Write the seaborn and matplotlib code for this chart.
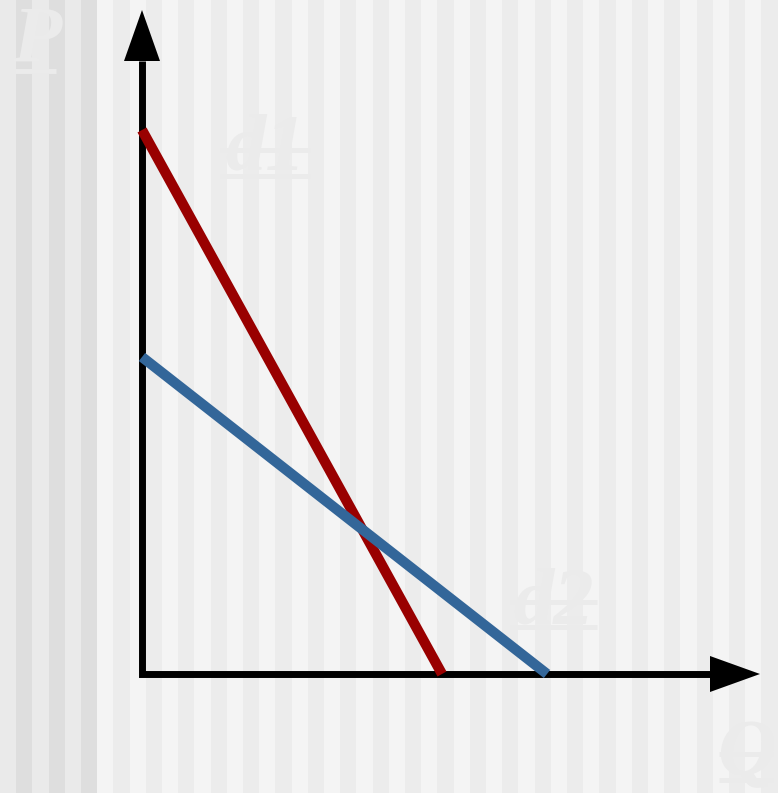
import numpy as np
import pandas as pd
import matplotlib
matplotlib.use("Agg")
import matplotlib.pyplot as plt
import seaborn as sns

# Du lieu hai duong cau (Q, P)
q_d1 = [0, 300]
p_d1 = [544, 0]
q_d2 = [0, 405]
p_d2 = [317, 0]
curve_names = ["d1", "d2"]
axis_names = ["P", "Q"]

sns.set_theme(style="white")
plt.rcParams['font.family'] = ['Liberation Serif', 'DejaVu Serif']

fig = plt.figure(figsize=(7.78, 7.93), dpi=100)
ax = fig.add_axes([0, 0, 1, 1])

# Nen soc doc
w = 16.2
for i in range(49):
    if i < 6:
        c = '#eaeaea' if i % 2 == 0 else '#dedede'
    else:
        c = '#f4f4f4' if i % 2 == 0 else '#ececec'
    ax.axvspan(i * w - 142, (i + 1) * w - 142, color=c, lw=0, zorder=0)

# Chu mo (P, d1, d2, Q)
txt_color = '#ebebeb'
labels = [
    (axis_names[0], -105, 612, (-127, -86), 603, None),
    (curve_names[0], 123, 504, (78, 168), 498, 524),
    (curve_names[1], 411, 51, (368, 455), 47, 72),
    (axis_names[1], 604, -101, (577, 631), -106, -80),
]
for s, x, y, (x0, x1), yu, ys in labels:
    ax.text(x, y, s, ha='center', va='baseline', fontsize=58,
            fontweight='bold', fontstyle='italic', color=txt_color, zorder=1)
    ax.plot([x0, x1], [yu, yu], color=txt_color, lw=3.5, zorder=1,
            solid_capstyle='butt')
    if ys is not None:
        ax.plot([x0, x1], [ys, ys], color=txt_color, lw=3.5, zorder=1,
                solid_capstyle='butt')

# Truc toa do voi mui ten
ax.plot([0, 0, 568], [613, 0, 0], color='black', lw=5, zorder=2,
        solid_joinstyle='miter', solid_capstyle='butt')
ax.fill([-18, 18, 0], [613, 613, 664], color='black', lw=0, zorder=2)
ax.fill([568, 568, 618], [18, -18, 0], color='black', lw=0, zorder=2)

# Hai duong cau
df1 = pd.DataFrame({'Q': q_d1, 'P': p_d1})
df2 = pd.DataFrame({'Q': q_d2, 'P': p_d2})
sns.lineplot(data=df1, x='Q', y='P', ax=ax, color='#990000', linewidth=7.4,
             solid_capstyle='butt', zorder=3)
sns.lineplot(data=df2, x='Q', y='P', ax=ax, color='#336699', linewidth=7.4,
             solid_capstyle='butt', zorder=3)
ax.set_xlim(-142, 636)
ax.set_ylim(-119, 674)
ax.axis('off')

plt.savefig('out.png', dpi=100)
plt.close()
